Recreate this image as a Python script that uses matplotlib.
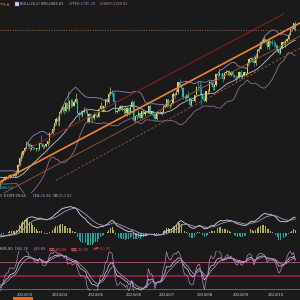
import numpy as np
import pandas as pd
import matplotlib
matplotlib.use("Agg")
import matplotlib.pyplot as plt
from matplotlib.patches import Rectangle

BG = "#1a1a1a"
UP = "#e6d23c"
DOWN = "#22b5c6"
FONTS = ["DejaVu Sans", "Noto Sans CJK SC"]

# daily XAU/USD candles, weekdays from 2024-01-02 (Jan/Feb are warm-up for the indicators)
START = "2024-01-02"

opens = [
    2063, 2058, 2042, 2043, 2045, 2027, 2030, 2024, 2029, 2049, 2055, 2028, 2006, 2023, 2029, 2021, 2029, 2014, 2021, 2018, 2032, 2037,
    2039, 2054, 2039, 2025, 2035, 2035, 2034, 2024, 2020, 1992, 1992, 2004, 2013, 2017, 2025, 2025, 2024, 2035, 2031, 2029, 2034,
    2044, 2083, 2114, 2128, 2148, 2160, 2179, 2182, 2158, 2175, 2162, 2156, 2160, 2157, 2186, 2181, 2165, 2171, 2179, 2194, 2230,
    2233, 2250, 2280, 2300, 2290, 2329, 2339, 2352, 2333, 2372, 2344, 2383, 2383, 2361, 2379, 2391, 2327, 2322, 2316, 2332, 2337, 2335,
    2286, 2320, 2303, 2301, 2323, 2314, 2309, 2346, 2360, 2336, 2358, 2386, 2376, 2415, 2425, 2421, 2379, 2329, 2334, 2350, 2360, 2338, 2343,
    2327, 2350, 2327, 2355, 2376, 2293, 2311, 2316, 2324, 2303, 2333, 2319, 2329, 2328, 2360, 2322, 2334, 2320, 2298, 2328,
    2326, 2323, 2330, 2356, 2356, 2392, 2358, 2364, 2371, 2415, 2411, 2422, 2469, 2458, 2445, 2400, 2396, 2409, 2397, 2364, 2387, 2384, 2411,
    2447, 2446, 2443, 2410, 2390, 2382, 2427, 2431, 2472, 2465, 2447, 2456, 2507, 2504, 2514, 2512, 2484, 2512, 2518, 2524, 2504, 2520,
    2503, 2500, 2493, 2495, 2516, 2497, 2506, 2516, 2512, 2558, 2578, 2582, 2569, 2559, 2587, 2622, 2628, 2657, 2657, 2672, 2658,
    2634, 2662, 2657, 2656, 2653, 2644, 2622, 2608, 2631, 2657, 2649, 2662, 2674, 2692, 2721, 2720, 2748,
]
highs = [
    2079, 2065, 2051, 2064, 2046, 2038, 2040, 2045, 2062, 2059, 2057, 2031, 2024, 2033, 2030, 2032, 2032, 2023, 2026, 2036, 2043, 2056,
    2065, 2065, 2040, 2039, 2040, 2042, 2038, 2030, 2032, 1998, 2008, 2015, 2022, 2031, 2030, 2035, 2041, 2038, 2038, 2043, 2052,
    2088, 2119, 2141, 2153, 2165, 2195, 2189, 2185, 2178, 2176, 2167, 2164, 2163, 2189, 2222, 2183, 2176, 2184, 2196, 2235, 2236,
    2265, 2281, 2305, 2305, 2330, 2354, 2365, 2354, 2378, 2431, 2386, 2393, 2393, 2385, 2418, 2393, 2333, 2338, 2339, 2352, 2353, 2337,
    2326, 2326, 2318, 2331, 2327, 2323, 2351, 2378, 2364, 2359, 2392, 2398, 2422, 2450, 2432, 2424, 2386, 2338, 2358, 2364, 2364, 2352, 2360,
    2354, 2353, 2358, 2388, 2387, 2314, 2317, 2342, 2326, 2335, 2334, 2334, 2334, 2365, 2369, 2336, 2336, 2322, 2331, 2337,
    2339, 2335, 2365, 2363, 2393, 2393, 2372, 2375, 2425, 2425, 2440, 2469, 2483, 2463, 2449, 2406, 2413, 2431, 2399, 2390, 2393, 2412, 2451,
    2477, 2477, 2461, 2413, 2406, 2431, 2437, 2476, 2479, 2477, 2463, 2509, 2510, 2531, 2514, 2512, 2517, 2528, 2528, 2526, 2524, 2524,
    2505, 2504, 2500, 2523, 2529, 2509, 2518, 2517, 2560, 2586, 2590, 2589, 2600, 2596, 2626, 2634, 2664, 2670, 2685, 2674, 2666,
    2673, 2665, 2672, 2670, 2660, 2646, 2625, 2634, 2661, 2666, 2667, 2677, 2696, 2722, 2740, 2749, 2758,
]
lows = [
    2057, 2030, 2033, 2024, 2016, 2022, 2021, 2013, 2028, 2047, 2023, 2002, 2003, 2017, 2016, 2011, 2010, 2009, 2013, 2016, 2029, 2030,
    2032, 2030, 2015, 2021, 2029, 2022, 2021, 2012, 1990, 1984, 1985, 1996, 2009, 2012, 2015, 2016, 2020, 2024, 2025, 2025, 2030,
    2039, 2078, 2099, 2124, 2146, 2155, 2170, 2150, 2154, 2154, 2155, 2146, 2146, 2151, 2171, 2155, 2162, 2168, 2173, 2186, 2227,
    2228, 2243, 2272, 2268, 2267, 2320, 2329, 2319, 2329, 2340, 2333, 2352, 2354, 2357, 2372, 2320, 2291, 2310, 2307, 2327, 2324, 2285,
    2281, 2295, 2277, 2291, 2305, 2303, 2306, 2344, 2333, 2336, 2353, 2370, 2371, 2409, 2406, 2373, 2325, 2326, 2333, 2341, 2333, 2322, 2315,
    2314, 2315, 2320, 2352, 2286, 2286, 2298, 2306, 2300, 2302, 2311, 2310, 2321, 2325, 2317, 2317, 2309, 2293, 2295, 2319,
    2319, 2318, 2328, 2350, 2353, 2353, 2351, 2360, 2370, 2393, 2410, 2417, 2450, 2440, 2393, 2385, 2393, 2403, 2353, 2357, 2380, 2379, 2410,
    2431, 2410, 2364, 2385, 2379, 2379, 2414, 2425, 2459, 2432, 2432, 2454, 2493, 2498, 2497, 2471, 2483, 2507, 2505, 2498, 2500, 2494,
    2488, 2472, 2484, 2490, 2485, 2492, 2499, 2500, 2508, 2554, 2574, 2564, 2546, 2551, 2584, 2613, 2624, 2650, 2655, 2643, 2625,
    2624, 2645, 2643, 2633, 2636, 2614, 2604, 2603, 2626, 2643, 2637, 2657, 2666, 2690, 2710, 2715, 2708,
]
closes = [
    2058, 2042, 2043, 2045, 2027, 2030, 2024, 2029, 2049, 2055, 2028, 2006, 2023, 2029, 2021, 2029, 2014, 2021, 2018, 2032, 2037, 2039,
    2054, 2039, 2025, 2035, 2035, 2034, 2024, 2020, 1992, 1992, 2004, 2013, 2017, 2025, 2025, 2024, 2035, 2031, 2029, 2034, 2044,
    2083, 2114, 2128, 2148, 2160, 2179, 2182, 2158, 2175, 2162, 2156, 2160, 2157, 2186, 2181, 2165, 2171, 2179, 2194, 2230, 2233,
    2250, 2280, 2300, 2290, 2329, 2339, 2352, 2333, 2372, 2344, 2383, 2383, 2361, 2379, 2391, 2327, 2322, 2316, 2332, 2337, 2335, 2286,
    2320, 2303, 2301, 2323, 2314, 2309, 2346, 2360, 2336, 2358, 2386, 2376, 2415, 2425, 2421, 2379, 2329, 2334, 2350, 2360, 2338, 2343, 2327,
    2350, 2327, 2355, 2376, 2293, 2311, 2316, 2324, 2303, 2333, 2319, 2329, 2328, 2360, 2322, 2334, 2320, 2298, 2328, 2326,
    2323, 2330, 2356, 2356, 2392, 2358, 2364, 2371, 2415, 2411, 2422, 2469, 2458, 2445, 2400, 2396, 2409, 2397, 2364, 2387, 2384, 2411, 2447,
    2446, 2443, 2410, 2390, 2382, 2427, 2431, 2472, 2465, 2447, 2456, 2507, 2504, 2514, 2512, 2484, 2512, 2518, 2524, 2504, 2520, 2503,
    2500, 2493, 2495, 2516, 2497, 2506, 2516, 2512, 2558, 2578, 2582, 2569, 2559, 2587, 2622, 2628, 2657, 2657, 2672, 2658, 2634,
    2662, 2657, 2656, 2653, 2644, 2622, 2608, 2631, 2657, 2649, 2662, 2674, 2692, 2721, 2720, 2748, 2715,
]

month_ticks = ["2024-03-01", "2024-04-01", "2024-05-01", "2024-06-03",
               "2024-07-01", "2024-08-01", "2024-09-02", "2024-10-01"]
month_labels = ["2024/03", "2024/04", "2024/05", "2024/06",
                "2024/07", "2024/08", "2024/09", "2024/10"]

# hand-drawn trend lines: (anchor dates, anchor prices)
orange_line = (["2024-02-14", "2024-10-23"], [1998, 2736])
red_line = (["2024-03-08", "2024-10-14"], [2153, 2790])
brown_line = (["2024-02-14", "2024-10-23"], [1937, 2675])
dashed_line = (["2024-04-03", "2024-10-23"], [2010, 2618])

low_label = "1984.52"

KDJ_N = 21

assert len(opens) == len(highs) == len(lows) == len(closes)


def pos(day):
    return int(np.busday_count(np.datetime64(START), np.datetime64(day)))


df = pd.DataFrame({"open": opens, "high": highs, "low": lows, "close": closes})
df["x"] = np.arange(len(df))

# BOLL(20,2)
df["mid"] = df["close"].rolling(20).mean()
std = df["close"].rolling(20).std(ddof=0)
df["upper"] = df["mid"] + 2 * std
df["lower"] = df["mid"] - 2 * std

# MACD(12,26,9)
ema12 = df["close"].ewm(span=12, adjust=False).mean()
ema26 = df["close"].ewm(span=26, adjust=False).mean()
df["dif"] = ema12 - ema26
df["dea"] = df["dif"].ewm(span=9, adjust=False).mean()
df["hist"] = 2 * (df["dif"] - df["dea"])

# KDJ(N,3,3)
llv = df["low"].rolling(KDJ_N, min_periods=1).min()
hhv = df["high"].rolling(KDJ_N, min_periods=1).max()
rsv = (df["close"] - llv) / (hhv - llv) * 100
k_vals, d_vals = [], []
k, d = 50.0, 50.0
for r in rsv:
    k = 2 / 3 * k + r / 3
    d = 2 / 3 * d + k / 3
    k_vals.append(k)
    d_vals.append(d)
df["K"] = k_vals
df["D"] = d_vals
df["J"] = 3 * df["K"] - 2 * df["D"]

PX_DAY = 1.65
x_left = pos("2024-03-01") - 18 / PX_DAY
x_right = x_left + 300 / PX_DAY

fig = plt.figure(figsize=(3, 3), dpi=100, facecolor=BG)


def panel(top_px, bottom_px):
    ax = fig.add_axes([0, 1 - bottom_px / 300, 1, (bottom_px - top_px) / 300])
    ax.set_facecolor(BG)
    ax.set_xlim(x_left, x_right)
    ax.axis("off")
    return ax


# price panel
ax = panel(8, 193)
ax.set_ylim(1951, 2818)

up = df["close"] >= df["open"]
for mask, col in [(up, UP), (~up, DOWN)]:
    sub = df[mask]
    ax.vlines(sub["x"], sub["low"], sub["high"], color=col, lw=0.45)
    ax.bar(sub["x"], (sub["close"] - sub["open"]).abs().clip(lower=1),
           bottom=sub[["open", "close"]].min(axis=1), width=0.75, color=col, lw=0)

ax.plot(df["x"], df["upper"], color="#8c84b8", lw=0.6)
ax.plot(df["x"], df["mid"], color="#c4c0d0", lw=0.6)
ax.plot(df["x"], df["lower"], color="#8a6e94", lw=0.6)


def trend(line, extend, **kw):
    days, prices = line
    x0, x1 = pos(days[0]), pos(days[1])
    slope = (prices[1] - prices[0]) / (x1 - x0)
    xe = x_right + 2 if extend else x1
    ax.plot([x0, xe], [prices[0], prices[0] + slope * (xe - x0)], **kw)


trend(red_line, False, color="#8b1c1c", lw=0.8)
trend(brown_line, True, color="#9a5a30", lw=0.6)
trend(dashed_line, True, color="#9a5a30", lw=0.6, ls=(0, (3, 2)))
trend(orange_line, True, color="#ec8438", lw=1.2)

ax.axhline(closes[-1], color="#a0683c", lw=0.7, ls=(0, (1, 1.5)))
ax.text(pos("2024-02-14") + 0.5, 1984, low_label, color="#34c4d4", fontsize=2.6,
        va="top", ha="left")

# MACD panel
axm = panel(198, 247)
axm.set_ylim(-33, 84)
h = df["hist"]
axm.bar(df["x"], h, width=0.6, color=np.where(h >= 0, "#b4b050", "#18a6a6"), lw=0)
axm.plot(df["x"], df["dif"], color="#d8d8e0", lw=0.6)
axm.plot(df["x"], df["dea"], color="#a898c8", lw=0.6)

# KDJ panel
axk = panel(251, 291)
axk.set_ylim(15.6, 104.4)
axk.axhline(80, color="#b05868", lw=0.6)
axk.axhline(20, color="#b05868", lw=0.6)
axk.axhline(50, color="#9a1e4a", lw=1.3)
axk.plot(df["x"], df["K"], color="#d8d8e0", lw=0.5)
axk.plot(df["x"], df["D"], color="#b0a0d0", lw=0.5)
axk.plot(df["x"], df["J"], color="#c080c8", lw=0.5)

# month labels
for day, lab in zip(month_ticks, month_labels):
    xf = (pos(day) - x_left) / (x_right - x_left)
    fig.text(xf - 0.004, 1 - 295 / 300, lab, color="#c8c8c8", fontsize=2.8,
             ha="left", va="center")

# header texts
fs = 2.5
fig.text(0.0, 1 - 4 / 300, "ing \u25b2", color="#e0782c", fontsize=fs, va="center")
fig.patches.append(Rectangle((15 / 300, 1 - 6 / 300), 4 / 300, 4 / 300,
                             transform=fig.transFigure, facecolor="#d8d0f0",
                             edgecolor="#7060c0", lw=0.3))
fig.text(20 / 300, 1 - 4 / 300, "BOLL(20,2) MID:2466.61", color="#c0c0c8", fontsize=fs, va="center")
fig.text(69 / 300, 1 - 4 / 300, "UPPER:2740.39", color="#9a90d0", fontsize=fs, va="center")
fig.text(100 / 300, 1 - 4 / 300, "LOWER:2188.82", color="#c078a8", fontsize=fs, va="center")

fig.text(0.0, 1 - 196 / 300, "C.8 DIFF:29.04", color="#c8c8d0", fontsize=fs, va="center")
fig.text(33 / 300, 1 - 196 / 300, "DEA:25.98", color="#a898d8", fontsize=fs, va="center")
fig.text(53 / 300, 1 - 196 / 300, "MACD:7.82", color="#c080c8", fontsize=fs, va="center")

kdj_y = 1 - 249 / 300
fig.text(0.0, kdj_y, "K:85.80", color="#c8c8d0", fontsize=fs, va="center", family=FONTS)
fig.text(15 / 300, kdj_y, "D:84.26", color="#a898d8", fontsize=fs, va="center", family=FONTS)
fig.text(33 / 300, kdj_y, "J:88.89", color="#c080c8", fontsize=fs, va="center", family=FONTS)
fig.text(49 / 300, kdj_y, "超买:80.00", color="#e05860", fontsize=fs, va="center", family=FONTS)
fig.text(71 / 300, kdj_y, "超卖:20.00", color="#e05860", fontsize=fs, va="center", family=FONTS)
fig.text(93 / 300, kdj_y, "分界:50.00", color="#f03050", fontsize=fs, va="center", family=FONTS)

# current-date marker at the bottom edge
fig.patches.append(Rectangle((13 / 300, 0), 20 / 300, 3 / 300,
                             transform=fig.transFigure, facecolor="#e07020", lw=0))

fig.savefig("out.png", dpi=100, facecolor=BG)
